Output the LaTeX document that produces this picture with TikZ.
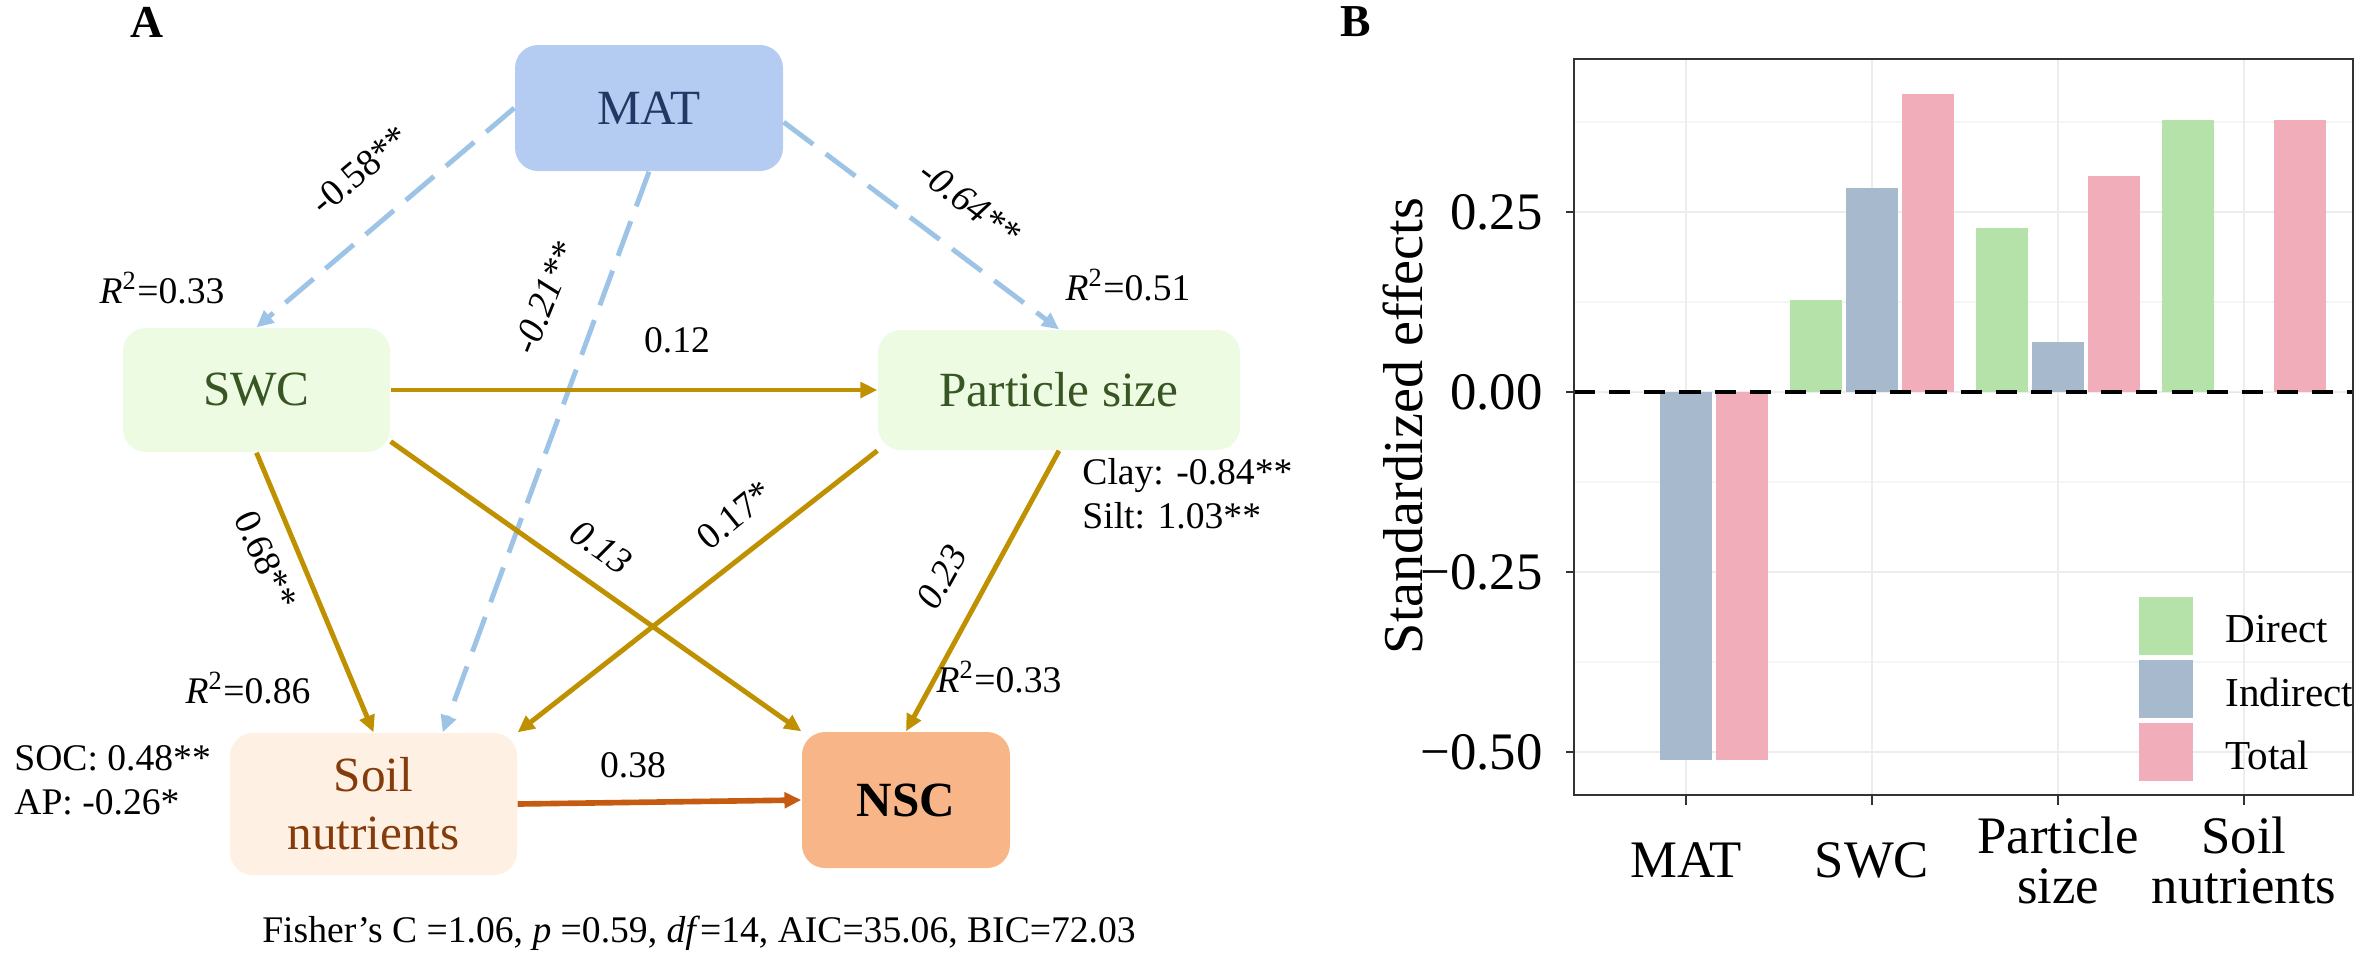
\documentclass[tikz,border=0pt]{standalone}
\usepackage{fontspec}
\setmainfont{Liberation Serif}
\usetikzlibrary{arrows.meta}

\definecolor{matblue}{HTML}{B4CCF1}
\definecolor{matnavy}{HTML}{1F3864}
\definecolor{lightgreen}{HTML}{EDFBE3}
\definecolor{darkgreen}{HTML}{375623}
\definecolor{nutpeach}{HTML}{FEF0E2}
\definecolor{nutbrown}{HTML}{843C0C}
\definecolor{nscorange}{HTML}{F8B588}
\definecolor{negblue}{HTML}{9DC3E6}
\definecolor{posgold}{HTML}{BF9000}
\definecolor{nscline}{HTML}{C55A11}
\definecolor{direct}{HTML}{B5E2A9}
\definecolor{indirect}{HTML}{A7B9CD}
\definecolor{total}{HTML}{F2ADBA}

\tikzset{
  varbox/.style={rounded corners=2.3mm, inner sep=0pt, align=center,
    font=\fontsize{14}{16.5}\selectfont},
  coef/.style={font=\fontsize{10.7}{12.6}\selectfont},
  effneg/.style={draw=negblue, line width=1.4pt, dash pattern=on 10.5pt off 4.5pt,
    -{Triangle[length=4.8pt,width=4.4pt]}},
  effpos/.style={draw=posgold, line width=1.4pt,
    -{Triangle[length=4.8pt,width=4.4pt]}},
  axlab/.style={font=\fontsize{15}{14.2}\selectfont},
  panel/.style={font=\fontsize{13}{15}\selectfont\bfseries},
}

\begin{document}
\begin{tikzpicture}[x=0.1mm, y=-0.1mm]
\useasboundingbox (0,0) rectangle (2362,962);

% A: path model
\node[panel] (A) at (147,22) {A};
\node[varbox, fill=matblue, text=matnavy, minimum width=26.8mm, minimum height=12.6mm] (MAT) at (649,108) {MAT};
\node[varbox, fill=lightgreen, text=darkgreen, minimum width=26.7mm, minimum height=12.4mm] (SWC) at (256.5,390) {SWC};
\node[varbox, fill=lightgreen, text=darkgreen, minimum width=36.2mm, minimum height=12mm] (PS) at (1059,390) {Particle size};
\node[varbox, fill=nutpeach, text=nutbrown, minimum width=28.7mm, minimum height=14.2mm] (SN) at (373.5,804) {Soil\\nutrients};
\node[varbox, fill=nscorange, minimum width=20.8mm, minimum height=13.6mm,
  font=\fontsize{14}{16.5}\selectfont\bfseries] (NSC) at (906,800) {NSC};

\draw[effneg] (MAT.west) -- (SWC.north);
\draw[effneg] (MAT.-6) -- (PS.north);
\draw[effneg] (MAT.south) -- (SN.46);
\draw[effpos] (SWC.east) -- (PS.west);
\draw[effpos] (SWC.south) -- (SN.north);
\draw[effpos] (SWC.-21.7) -- (NSC.north west);
\draw[effpos] (PS.south west) -- (SN.north east);
\draw[effpos] (PS.south) -- (NSC.north);
\draw[effpos, draw=nscline, line width=1.6pt] (SN.east) -- (NSC.west);

\node[coef, rotate=40] (c58) at (360,170) {-0.58**};
\node[coef, rotate=-37] (c64) at (970,203) {\itshape -0.64**};
\node[coef, rotate=68] (c21) at (545,298) {\itshape -0.21**};
\node[coef] (c12) at (677,340) {0.12};
\node[coef, rotate=-65] (c68) at (266,560) {0.68**};
\node[coef, rotate=-35] (c13) at (601,547) {\itshape 0.13};
\node[coef, rotate=39] (c17) at (735,515) {0.17*};
\node[coef, rotate=61] (c23) at (942,577) {\itshape 0.23};
\node[coef] (c38) at (633,765) {0.38};

\node[coef] (rswc) at (162,288) {\textit{R}\textsuperscript{2}=0.33};
\node[coef] (rps) at (1128,285) {\textit{R}\textsuperscript{2}=0.51};
\node[coef] (rsn) at (248,688) {\textit{R}\textsuperscript{2}=0.86};
\node[coef] (rnsc) at (999,677) {\textit{R}\textsuperscript{2}=0.33};
\node[coef, anchor=west, align=left] (soc) at (2,780) {SOC: 0.48**\\AP: -0.26*};
\node[coef, anchor=west, align=left] (clay) at (1070,494) {Clay: -0.84**\\Silt: 1.03**};
\node[coef] (fit) at (699,933) {Fisher’s C =1.06, \textit{p} =0.59, \textit{df}=14, AIC=35.06, BIC=72.03};

% B: standardized effects
\node[panel] (B) at (1356,22) {B};
\node[font=\fontsize{16}{18}\selectfont, rotate=90] (ytitle) at (1403,426) {Standardized effects};
\begin{scope}[shift={(1686,392)}, y=72mm]
  \foreach \v in {0.375,0.125,-0.125,-0.375}
    \draw[black!4, line width=0.3pt] (-112,\v) -- (667,\v);
  \foreach \v in {0.25,0,-0.25,-0.5}
    \draw[black!7, line width=0.5pt] (-112,\v) -- (667,\v);
  \foreach \c in {0,186,372,558}
    \draw[black!7, line width=0.5pt] (\c,-0.56) -- (\c,0.4625);
  \foreach \c/\d/\i/\t in {0/0/-0.511/-0.511, 186/0.128/0.283/0.414, 372/0.228/0.069/0.300, 558/0.378/0/0.378} {
    \fill[direct] (\c-82,0) rectangle (\c-30,\d);
    \fill[indirect] (\c-26,0) rectangle (\c+26,\i);
    \fill[total] (\c+30,0) rectangle (\c+82,\t);
  }
  \draw[black, line width=1.4pt, dash pattern=on 6pt off 4pt] (-112,0) -- (667,0);
  \draw[black!80, line width=0.45pt] (-112,-0.56) rectangle (667,0.4625);
  \foreach \v/\t [count=\k] in {0.25/0.25, 0/0.00, -0.25/−0.25, -0.5/−0.50} {
    \draw[black!80, line width=0.6pt] (-120,\v) -- (-112,\v);
    \node[axlab, anchor=east] (ytick\k) at (-131,\v) {\t};
  }
  \foreach \c/\n [count=\k] in {0/MAT, 186/SWC, 372/Particle\\size, 558/Soil\\nutrients} {
    \draw[black!80, line width=0.6pt] (\c,-0.56) -- ++(0,-0.014);
    \node[axlab, align=center] (xtick\k) at (\c,-0.65) {\n};
  }
\end{scope}
\foreach \n/\col/\y [count=\k] in {Direct/direct/626, Indirect/indirect/689, Total/total/752} {
  \fill[\col] (2139,\y-29) rectangle (2193,\y+29);
  \node[font=\fontsize{11.7}{14}\selectfont, anchor=west] (leg\k) at (2213,\y+3) {\n};
}
\end{tikzpicture}
\end{document}
